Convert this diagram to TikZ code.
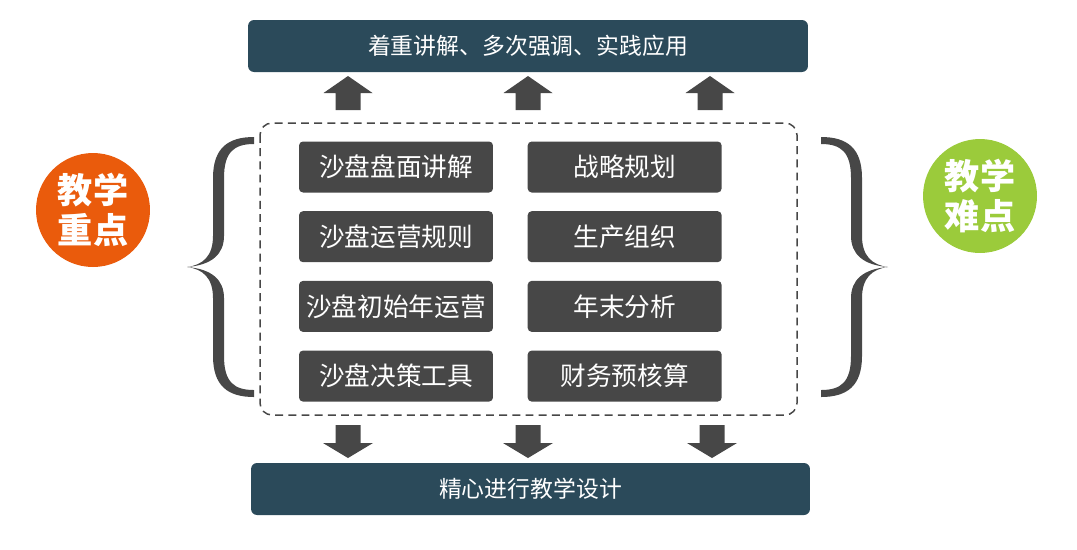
\documentclass[tikz,border=0pt]{standalone}
\usepackage{fontspec}
\setmainfont{Noto Sans CJK SC}
\usepackage{tikz}
\usetikzlibrary{positioning}
\usepackage{xcolor}
\definecolor{barblue}{HTML}{2B4A5A}
\definecolor{boxgray}{HTML}{474747}
\definecolor{keyorange}{HTML}{EA5B0C}
\definecolor{hardgreen}{HTML}{9BCB3B}

\begin{document}
\begin{tikzpicture}[x=0.02cm,y=-0.02cm,
  topic/.style={fill=boxgray,rounded corners=0.08cm,minimum width=3.88cm,minimum height=1.02cm,
    inner sep=0pt,text=white,font=\fontsize{14.6pt}{16pt}\selectfont},
  bar/.style={fill=barblue,rounded corners=0.12cm,minimum height=1.04cm,inner sep=0pt,
    text=white,font=\fontsize{13pt}{15pt}\selectfont},
  badge/.style={circle,minimum size=2.28cm,inner sep=0pt,text=white,align=center,
    font=\fontsize{20pt}{23pt}\selectfont\bfseries},
  blockarrow/.style={fill=boxgray},
  brace/.pic={
    \fill[boxgray] (254,137) .. controls (228,137) and (213,148) .. (213,178) -- (213,236)
      .. controls (213,256) and (203,265) .. (187,267) .. controls (203,269) and (213,278) .. (213,298)
      -- (213,356) .. controls (213,386) and (228,397) .. (254,397) -- (254,390)
      .. controls (234,390) and (224,382) .. (224,356) -- (224,298)
      .. controls (224,280) and (212,269) .. (187,267) .. controls (212,265) and (224,254) .. (224,236)
      -- (224,178) .. controls (224,152) and (234,144) .. (254,144) -- cycle;
  }]
\useasboundingbox (0,0) rectangle (1077,549);

% top and bottom bars
\node[bar,minimum width=11.2cm] (apply) at (528,46) {着重讲解、多次强调、实践应用};
\node[bar,minimum width=11.18cm] (design) at (530.5,489) {精心进行教学设计};

% dashed frame round the topics
\draw[boxgray,line width=0.85pt,dash pattern=on 4.5pt off 3pt,rounded corners=0.24cm]
  (260,123) rectangle (797,415);

% key points, left column
\node[topic] (p1) at (396,167) {沙盘盘面讲解};
\node[topic,below=0.36cm of p1] (p2) {沙盘运营规则};
\node[topic,below=0.36cm of p2] (p3) {沙盘初始年运营};
\node[topic,below=0.36cm of p3] (p4) {沙盘决策工具};
% hard points, right column
\node[topic,right=0.68cm of p1] (d1) {战略规划};
\node[topic,right=0.68cm of p2] (d2) {生产组织};
\node[topic,right=0.68cm of p3] (d3) {年末分析};
\node[topic,right=0.68cm of p4] (d4) {财务预核算};

% up and down arrows
\foreach \cx in {348,528,710}
  \fill[blockarrow] (\cx-12.5,110) -- (\cx-12.5,93) -- (\cx-24.5,93) -- (\cx,76)
    -- (\cx+24.5,93) -- (\cx+12.5,93) -- (\cx+12.5,110) -- cycle;
\foreach \cx in {348,528,712}
  \fill[blockarrow] (\cx-12.5,425) -- (\cx-12.5,443) -- (\cx-25,443) -- (\cx,458)
    -- (\cx+25,443) -- (\cx+12.5,443) -- (\cx+12.5,425) -- cycle;

% braces
\pic at (0,0) {brace};
\pic[xscale=-1] at (1075,0) {brace};

% badges
\node[badge,fill=keyorange] (key) at (93,210) {教学\\重点};
\node[badge,fill=hardgreen] (hard) at (980,196) {教学\\难点};
\end{tikzpicture}
\end{document}
